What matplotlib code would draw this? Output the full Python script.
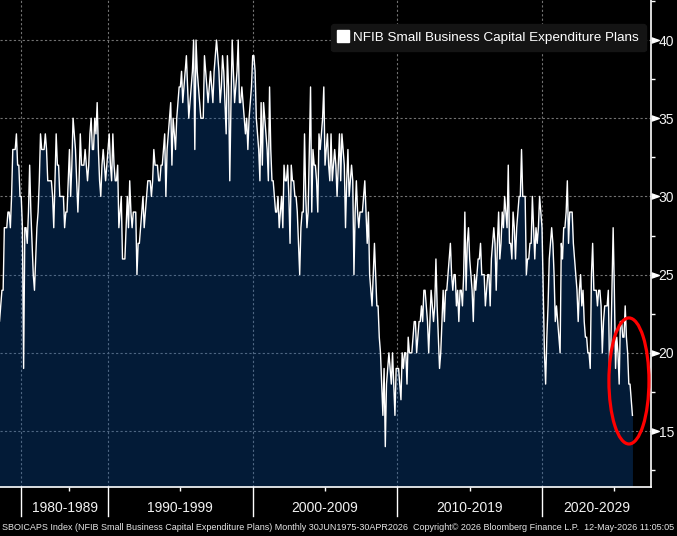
import numpy as np
import matplotlib
matplotlib.use("Agg")
import matplotlib.pyplot as plt
from matplotlib import font_manager
from matplotlib.patches import Ellipse
from matplotlib.lines import Line2D
import matplotlib.transforms as mtransforms

# ---------------- data ----------------
q1975_79 = [22, 22, 23, 24, 24, 28, 28, 28, 29, 29, 28, 30, 33, 33, 33, 34, 32, 32, 30]

m1980s = [30, 28, 19, 28, 28, 27, 29, 32, 29, 27,
          25, 24, 26, 28, 29, 31, 34, 33, 33, 33,
          34, 33, 31, 31, 31, 31, 30, 28, 31, 34,
          32, 32, 30, 30, 30, 30, 28, 29, 29, 31,
          33, 30, 32, 35, 34, 33, 31, 29, 31, 34,
          32, 32, 32, 33, 32, 31, 32, 34, 35, 33,
          33, 35, 34, 36, 33, 31, 30, 32, 33, 32,
          31, 32]

m1990s = [33, 34, 32, 31, 34, 32, 31, 31, 32, 28,
          29, 30, 26, 26, 26, 28, 30, 28, 31, 29,
          28, 29, 29, 29, 25, 27, 27, 28, 29, 30,
          28, 29, 30, 31, 31, 31, 30, 31, 33, 32,
          32, 32, 31, 31, 32, 32, 33, 34, 30, 33,
          34, 35, 36, 32, 35, 34, 33, 35, 36, 37,
          37, 38, 36, 37, 38, 39, 37, 35, 36, 37,
          38, 40, 33, 40, 38, 37, 36, 35, 35, 35,
          39, 38, 37, 36, 37, 38, 37, 36, 38, 39,
          40, 39, 38, 36, 37, 39, 38, 36, 34, 39,
          37, 31, 36, 40, 38, 36, 37, 38, 40, 36,
          36, 37, 36, 35, 34, 35, 33, 35, 36, 37]

m2000s = [39, 39, 38, 35, 34, 33, 31, 36, 32, 36,
          35, 34, 33, 31, 37, 33, 31, 31, 30, 29,
          29, 30, 28, 29, 30, 28, 32, 31, 31, 32,
          30, 27, 32, 31, 31, 30, 30, 29, 27, 25,
          28, 29, 29, 34, 30, 28, 29, 33, 37, 29,
          33, 32, 32, 31, 29, 34, 33, 34, 35, 37,
          32, 33, 34, 32, 31, 34, 31, 32, 33, 32,
          30, 32, 34, 31, 34, 33, 32, 28, 31, 33,
          30, 31, 32, 31, 25, 29, 31, 29, 28, 29,
          29, 29, 30, 31, 29, 27, 29, 25, 24, 23,
          25, 27, 25, 23, 23, 21, 20, 18, 16, 19,
          14, 18, 19, 20, 19, 18, 20, 18, 16, 19]

m2010s = [19, 19, 18, 17, 20, 19, 20, 20, 18, 21,
          20, 20, 20, 21, 22, 22, 20, 21, 22, 22,
          23, 22, 24, 24, 23, 22, 20, 22, 24, 23,
          22, 23, 26, 23, 21, 19, 20, 22, 24, 22,
          24, 24, 25, 26, 27, 25, 24, 25, 25, 23,
          24, 22, 24, 24, 23, 25, 29, 24, 27, 28,
          26, 25, 24, 22, 25, 24, 25, 26, 26, 27,
          25, 25, 25, 23, 24, 25, 25, 23, 26, 27,
          28, 27, 24, 27, 29, 26, 27, 29, 28, 30,
          29, 28, 32, 27, 27, 26, 29, 28, 26, 28,
          29, 30, 30, 33, 30, 30, 30, 25, 26, 26,
          27, 27, 30, 28, 26, 28, 27, 28, 30, 29]

m2020s = [28, 24, 20, 18, 21, 23, 26, 27, 28, 27,
          25, 22, 23, 22, 21, 20, 27, 26, 28, 28,
          29, 31, 27, 29, 29, 29, 27, 26, 25, 24,
          22, 24, 25, 23, 24, 22, 21, 21, 20, 20,
          19, 25, 27, 24, 24, 24, 23, 24, 24, 23,
          20, 22, 23, 23, 23, 24, 19, 20, 24, 28,
          24, 19, 21, 20, 18, 22, 22, 21, 21, 23,
          21, 20, 18, 18, 17, 16]

decade_labels = ["1980-1989", "1990-1999", "2000-2009", "2010-2019", "2020-2029"]
mid_decade_idx = [59, 151, 271, 391, 511]
y_major = [15, 20, 25, 30, 35, 40]
y_minor = [12.5, 17.5, 22.5, 27.5, 32.5, 37.5, 42.5]
series_name = "NFIB Small Business Capital Expenditure Plans"
footer = ("SBOICAPS Index (NFIB Small Business Capital Expenditure Plans) Monthly "
          "30JUN1975-30APR2026  Copyright\u00a9 2026 Bloomberg Finance L.P.  12-May-2026 11:05:05")

# ---------------- build ----------------
segments = [q1975_79, m1980s, m1990s, m2000s, m2010s, m2020s]
values = np.array(sum(segments, []), dtype=float)
idx = np.arange(len(values))
decade_starts = np.cumsum([len(s) for s in segments[:-1]])

avail = {f.name for f in font_manager.fontManager.ttflist}
narrow = "Liberation Sans Narrow" if "Liberation Sans Narrow" in avail else "Liberation Sans"

W, H = 677, 536
fig = plt.figure(figsize=(W / 100, H / 100), dpi=100, facecolor="black")
ax = fig.add_axes([0, 49 / H, 651 / W, 487 / H], facecolor="black")

XMIN, XMAX = 1.4, 541.4
YMIN, YMAX = 11.42, 42.56
ax.set_xlim(XMIN, XMAX)
ax.set_ylim(YMIN, YMAX)

grid_kw = dict(color="#727272", lw=0.8, ls=(0, (2, 2)), zorder=1)
for y in y_major:
    ax.axhline(y, **grid_kw)
for s in decade_starts:
    ax.axvline(s, **grid_kw)

ax.fill_between(idx, YMIN, values, color="#0b50a0", alpha=0.35, lw=0, zorder=2)
ax.plot(idx, values, color="white", lw=1.0, zorder=3)

for sp in ("top", "left"):
    ax.spines[sp].set_visible(False)
for sp in ("right", "bottom"):
    ax.spines[sp].set_color("white")
    ax.spines[sp].set_linewidth(1.2)
    ax.spines[sp].set_zorder(6)

# y axis on right
ax.yaxis.tick_right()
ax.set_yticks(y_major)
ax.set_yticklabels([str(v) for v in y_major], family=narrow)
ax.tick_params(axis="y", which="major", length=0, pad=5.5, labelsize=10, labelcolor="#f2f2f2")
ax.set_yticks(y_minor, minor=True)
ax.tick_params(axis="y", which="minor", length=3, width=1, color="white", direction="out")

tr_y = mtransforms.blended_transform_factory(ax.transAxes, ax.transData)
ax.plot([1.0054] * len(y_major), y_major, marker=[(-1, -0.7), (1, 0), (-1, 0.7)],
        ms=5.5, color="white", ls="none", transform=tr_y, clip_on=False, zorder=7)

# x axis: decade separators and labels
ax.set_xticks([])
ax.set_xticks(mid_decade_idx, minor=True)
ax.tick_params(axis="x", which="minor", length=3, width=1, color="white", direction="out",
               labelbottom=False)
tr_x = mtransforms.blended_transform_factory(ax.transData, ax.transAxes)
for s in decade_starts:
    ax.plot([s, s], [0, -29 / 487], color="white", lw=1.0, transform=tr_x, clip_on=False)
bounds = list(decade_starts) + [XMAX]
for i, lab in enumerate(decade_labels):
    c = (bounds[i] + bounds[i + 1]) / 2
    ax.text(c, -21 / 487, lab, transform=tr_x, ha="center", va="center",
            fontsize=10, color="#f2f2f2", family=narrow)

# legend
handle = Line2D([], [], marker="s", color="white", ls="none", ms=8)
leg = ax.legend([handle], [series_name], loc="upper right",
                bbox_to_anchor=(646 / 651, 1 - 24 / 487), bbox_transform=ax.transAxes,
                borderaxespad=0, frameon=True, facecolor="#141414", edgecolor="#141414",
                framealpha=1, fancybox=True, borderpad=0.55, handlelength=0.7,
                handletextpad=0.35, prop={"family": narrow, "size": 9.7}, labelcolor="white")
leg.set_zorder(8)

# red highlight ellipse around the latest readings
ell = Ellipse((523.1, 18.2), 33.2, 8.06, fill=False, ec="#ff0000", lw=2.3, zorder=9, clip_on=False)
ax.add_patch(ell)

fig.text(2 / W, 8 / H, footer, fontsize=6.45, family=narrow, color="#e6e6e6",
         ha="left", va="center")

fig.savefig("out.png", dpi=100, facecolor="black")
